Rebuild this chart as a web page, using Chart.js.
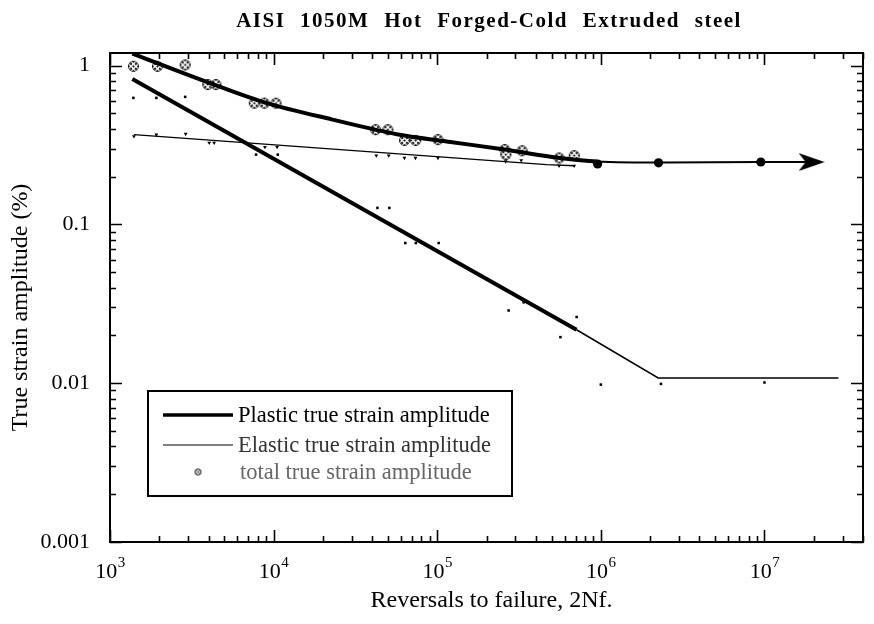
<!DOCTYPE html>
<html>
<head>
<meta charset="utf-8">
<script src="https://cdn.jsdelivr.net/npm/chart.js@4.4.1/dist/chart.umd.min.js"></script>
<style>
  html, body { margin: 0; padding: 0; background: #fff; }
  #wrap { width: 874px; height: 624px; position: relative; }
</style>
</head>
<body>
<div id="wrap"><canvas id="strainChart"></canvas></div>
<script>
'use strict';

// reversals to failure (2Nf) and true strain amplitude (%)
const totalN = [1390, 1950, 2880, 3960, 4440, 7620, 8770, 10340, 42000, 49900, 63100, 73800, 100900, 258700, 262600, 330000, 556000, 687000];
const totalStrain = [0.99, 0.99, 1.01, 0.76, 0.76, 0.58, 0.58, 0.58, 0.395, 0.395, 0.338, 0.338, 0.342, 0.296, 0.275, 0.291, 0.262, 0.271];

const runoutN = [955000, 2250000, 9500000];
const runoutStrain = [0.24, 0.244, 0.247];

const plasticN = [1390, 1920, 2880, 7810, 10600, 43100, 51000, 63800, 74000, 102000, 273000, 337000, 566000, 711000, 1000000, 2330000, 10000000];
const plasticStrain = [0.626, 0.626, 0.635, 0.275, 0.275, 0.127, 0.127, 0.0763, 0.0763, 0.0763, 0.0287, 0.0323, 0.0195, 0.0261, 0.0098, 0.0099, 0.0101];

const elasticN = [1400, 1920, 2900, 4040, 4330, 8850, 10500, 42400, 50500, 63000, 73600, 101000, 262000, 326000, 555000, 687000];
const elasticStrain = [0.359, 0.367, 0.371, 0.326, 0.326, 0.307, 0.307, 0.271, 0.271, 0.262, 0.262, 0.262, 0.249, 0.253, 0.234, 0.234];

// fitted curves
const plasticFitN = [1370, 710000, 2240000, 28300000];
const plasticFitStrain = [0.824, 0.0217, 0.0108, 0.0108];
const elasticFitN = [1400, 466000, 690000];
const elasticFitStrain = [0.367, 0.238, 0.234];
const totalFitN = [1370, 4040, 8970, 22900, 58900, 114000, 258000, 562000, 944000, 2500000, 9300000, 19400000];
const totalFitStrain = [1.19, 0.778, 0.582, 0.457, 0.367, 0.333, 0.296, 0.262, 0.249, 0.245, 0.247, 0.247];
const arrowN = [19400000];
const arrowStrain = [0.247];

const xExponents = [3, 4, 5, 6, 7];
const yTickLabels = ['0.001', '0.01', '0.1', '1'];
const legendLabels = ['Plastic true strain amplitude', 'Elastic true strain amplitude', 'total true strain amplitude'];

const SERIF = '"Liberation Serif", "Times New Roman", serif';

function pts(xs, ys) {
    return xs.map((x, i) => ({ x: x, y: ys[i] }));
}

// checkered circle marker like the scanned one
function makeHatched(r, step) {
    const c = document.createElement('canvas');
    const s = Math.ceil(r * 2 + 2);
    c.width = s; c.height = s;
    const g = c.getContext('2d');
    const m = s / 2;
    g.beginPath();
    g.arc(m, m, r, 0, Math.PI * 2);
    g.fillStyle = '#fff';
    g.fill();
    g.save();
    g.clip();
    g.fillStyle = '#000';
    for (let i = -3; i <= 3; i++) {
        for (let j = -3; j <= 3; j++) {
            if ((i + j) % 2 !== 0) continue;
            const px = m + i * step;
            const py = m + j * step;
            g.beginPath();
            g.moveTo(px, py - step * 0.55);
            g.lineTo(px + step * 0.55, py);
            g.lineTo(px, py + step * 0.55);
            g.lineTo(px - step * 0.55, py);
            g.closePath();
            g.fill();
        }
    }
    g.restore();
    g.beginPath();
    g.arc(m, m, r - 0.5, 0, Math.PI * 2);
    g.strokeStyle = '#000';
    g.lineWidth = 0.8;
    g.stroke();
    return c;
}

function makeArrow() {
    const c = document.createElement('canvas');
    c.width = 26; c.height = 18;
    const g = c.getContext('2d');
    g.beginPath();
    g.moveTo(26, 9);
    g.lineTo(0, 0);
    g.lineTo(7, 9);
    g.lineTo(0, 18);
    g.closePath();
    g.fillStyle = '#000';
    g.fill();
    return c;
}

const hatchBig = makeHatched(5.5, 2.4);
const hatchSmall = makeHatched(3.5, 1.8);
const arrowImg = makeArrow();

function tickLen(v) {
    const e = Math.floor(Math.log10(v) + 1e-9);
    const m = v / Math.pow(10, e);
    if (Math.abs(m - Math.round(m)) > 1e-6) return 0;
    return Math.round(m) === 1 ? 12 : 6;
}

// frame, inward ticks, x labels with superscripts, titles
const framePlugin = {
    id: 'framePlugin',
    afterDraw(chart) {
        const { ctx, chartArea: a, scales } = chart;
        ctx.save();
        ctx.strokeStyle = '#000';
        ctx.lineWidth = 2;
        ctx.strokeRect(a.left, a.top, a.right - a.left, a.bottom - a.top);

        ctx.lineWidth = 1.6;
        ctx.beginPath();
        scales.x.ticks.forEach(t => {
            const len = tickLen(t.value);
            if (!len) return;
            const px = Math.round(scales.x.getPixelForValue(t.value)) + 0.5;
            ctx.moveTo(px, a.bottom); ctx.lineTo(px, a.bottom - len);
            ctx.moveTo(px, a.top); ctx.lineTo(px, a.top + len);
        });
        scales.y.ticks.forEach(t => {
            const len = tickLen(t.value);
            if (!len) return;
            const py = Math.round(scales.y.getPixelForValue(t.value)) + 0.5;
            ctx.moveTo(a.left, py); ctx.lineTo(a.left + len, py);
            ctx.moveTo(a.right, py); ctx.lineTo(a.right - len, py);
        });
        ctx.stroke();

        // x tick labels 10^n
        ctx.fillStyle = '#000';
        ctx.textBaseline = 'alphabetic';
        ctx.textAlign = 'left';
        xExponents.forEach(e => {
            const px = scales.x.getPixelForValue(Math.pow(10, e));
            ctx.font = '22px ' + SERIF;
            const wBase = ctx.measureText('10').width;
            ctx.font = '15px ' + SERIF;
            const wExp = ctx.measureText(String(e)).width;
            const x0 = px - (wBase + wExp) / 2;
            ctx.font = '22px ' + SERIF;
            ctx.fillText('10', x0, 578);
            ctx.font = '15px ' + SERIF;
            ctx.fillText(String(e), x0 + wBase + 0.5, 567);
        });

        // axis titles
        ctx.textAlign = 'center';
        ctx.textBaseline = 'middle';
        ctx.font = '24px ' + SERIF;
        ctx.fillText('Reversals to failure, 2Nf.', (a.left + a.right) / 2 + 5, 601);
        ctx.save();
        ctx.translate(21, (a.top + a.bottom) / 2 + 10);
        ctx.rotate(-Math.PI / 2);
        ctx.fillText('True strain amplitude (%)', 0, 0);
        ctx.restore();

        // chart title with the wide spacing of the original
        ctx.font = 'bold 21px ' + SERIF;
        if ('letterSpacing' in ctx) ctx.letterSpacing = '1.5px';
        if ('wordSpacing' in ctx) ctx.wordSpacing = '8px';
        ctx.fillText('AISI 1050M Hot Forged-Cold Extruded steel', 489, 22);
        if ('letterSpacing' in ctx) ctx.letterSpacing = '0px';
        if ('wordSpacing' in ctx) ctx.wordSpacing = '0px';
        ctx.restore();
    }
};

// legend box inside the plot
const legendPlugin = {
    id: 'boxLegend',
    afterDraw(chart) {
        const ctx = chart.ctx;
        ctx.save();
        ctx.fillStyle = '#fff';
        ctx.fillRect(148, 391, 364, 105);
        ctx.strokeStyle = '#000';
        ctx.lineWidth = 2;
        ctx.strokeRect(148, 391, 364, 105);

        ctx.beginPath();
        ctx.lineWidth = 3.5;
        ctx.moveTo(163, 415); ctx.lineTo(233, 415);
        ctx.stroke();
        ctx.beginPath();
        ctx.lineWidth = 1.2;
        ctx.moveTo(163, 445); ctx.lineTo(233, 445);
        ctx.stroke();
        ctx.drawImage(hatchSmall, 198 - hatchSmall.width / 2, 472 - hatchSmall.height / 2);

        ctx.textAlign = 'left';
        ctx.textBaseline = 'middle';
        ctx.font = '22.5px ' + SERIF;
        ctx.fillStyle = '#000';
        ctx.fillText(legendLabels[0], 238, 416);
        ctx.fillStyle = '#333';
        ctx.fillText(legendLabels[1], 238, 446);
        ctx.fillStyle = '#666';
        ctx.font = '22.5px ' + SERIF;
        ctx.fillText(legendLabels[2], 240, 473);
        ctx.restore();
    }
};

const ctx = document.getElementById('strainChart').getContext('2d');
new Chart(ctx, {
    type: 'line',
    data: {
        datasets: [
            {
                label: 'Plastic fit',
                data: pts(plasticFitN, plasticFitStrain),
                borderColor: '#000',
                borderWidth: 4,
                pointRadius: 0,
                segment: { borderWidth: c => (c.p0DataIndex >= 1 ? 1.5 : 4) }
            },
            {
                label: 'Elastic fit',
                data: pts(elasticFitN, elasticFitStrain),
                borderColor: '#000',
                borderWidth: 1.3,
                pointRadius: 0
            },
            {
                label: 'Total fit',
                data: pts(totalFitN, totalFitStrain),
                borderColor: '#000',
                borderWidth: 4,
                pointRadius: 0,
                cubicInterpolationMode: 'monotone',
                segment: { borderWidth: c => (c.p0DataIndex >= 8 ? 2 : 4) }
            },
            {
                label: 'Arrow',
                data: pts(arrowN, arrowStrain),
                showLine: false,
                pointStyle: arrowImg,
                pointRadius: 10
            },
            {
                label: 'Plastic true strain amplitude',
                data: pts(plasticN, plasticStrain),
                showLine: false,
                pointStyle: 'rect',
                pointRadius: 1.8,
                backgroundColor: '#000',
                borderColor: '#000',
                borderWidth: 0
            },
            {
                label: 'Elastic true strain amplitude',
                data: pts(elasticN, elasticStrain),
                showLine: false,
                pointStyle: 'triangle',
                rotation: 180,
                pointRadius: 2.2,
                backgroundColor: '#000',
                borderColor: '#000',
                borderWidth: 0
            },
            {
                label: 'total true strain amplitude',
                data: pts(totalN, totalStrain),
                showLine: false,
                pointStyle: hatchBig,
                pointRadius: 6
            },
            {
                label: 'Run-out',
                data: pts(runoutN, runoutStrain),
                showLine: false,
                pointStyle: 'circle',
                pointRadius: 4.6,
                backgroundColor: '#000',
                borderColor: '#000',
                borderWidth: 0
            }
        ]
    },
    options: {
        responsive: true,
        maintainAspectRatio: false,
        animation: false,
        layout: { padding: { top: 53, right: 10, left: 0, bottom: 0 } },
        plugins: {
            legend: { display: false },
            title: { display: false },
            tooltip: { enabled: false }
        },
        scales: {
            x: {
                type: 'logarithmic',
                min: 1000,
                max: 40000000,
                grid: { display: false },
                border: { display: false },
                ticks: { display: false },
                afterFit: s => { s.height = 82; }
            },
            y: {
                type: 'logarithmic',
                min: 0.001,
                max: 1.2,
                grid: { display: false },
                border: { display: false },
                ticks: {
                    autoSkip: false,
                    padding: 12,
                    color: '#000',
                    font: { family: SERIF, size: 22 },
                    callback: function (v) {
                        const e = Math.log10(v);
                        if (Math.abs(e - Math.round(e)) > 1e-6) return '';
                        return yTickLabels[Math.round(e) + 3] || '';
                    }
                },
                afterFit: s => { s.width = 110; }
            }
        }
    },
    plugins: [framePlugin, legendPlugin]
});
</script>
</body>
</html>
